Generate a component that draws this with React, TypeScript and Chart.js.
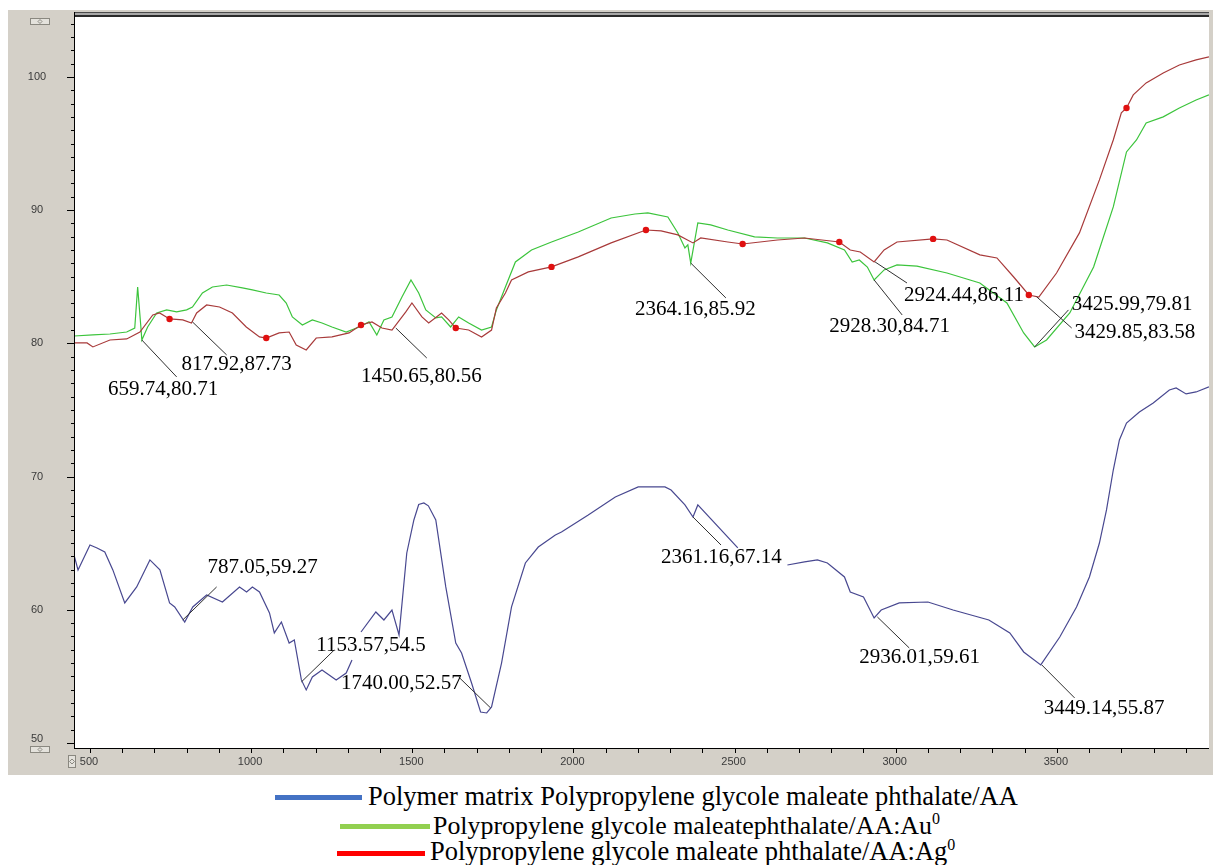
import React, { useEffect, useRef } from "react";
import { Chart, registerables } from "chart.js";

Chart.register(...registerables);

// ---------- axis ranges / ticks ----------
const X_MIN = 450.5;
const X_MAX = 3972;
const Y_MIN = 49.62;
const Y_MAX = 104.5;
const xTickLabels = [500, 1000, 1500, 2000, 2500, 3000, 3500];
const yTickLabels = [50, 60, 70, 80, 90, 100];

// ---------- Polymer matrix (blue) ----------
const polymerWavenumber = [
  450.5, 463, 500, 522, 546, 571, 608, 645, 686, 717, 747, 763, 794, 819, 862, 911, 964, 986, 1004, 1026,
  1057, 1072, 1094, 1118, 1134, 1156, 1171, 1190, 1220, 1264, 1295, 1313, 1327, 1341, 1387, 1412, 1437,
  1459, 1483, 1505, 1520, 1536, 1550, 1573, 1604, 1635, 1653, 1684, 1712, 1731, 1746, 1777, 1808, 1851,
  1891, 1944, 1963, 2046, 2130, 2201, 2284, 2303, 2346, 2371, 2386, 2510, 2590, 2664, 2717, 2757, 2788,
  2841, 2859, 2900, 2933, 2955, 3011, 3100, 3178, 3289, 3314, 3354, 3397, 3450, 3509, 3561, 3601, 3632,
  3654, 3675, 3694, 3716, 3756, 3799, 3849, 3870, 3901, 3932, 3972,
];
const polymerTransmittance = [
  64.11, 62.99, 64.86, 64.64, 64.34, 62.99, 60.51, 61.71, 63.74, 62.99, 60.51, 60.21, 59.08, 60.21, 61.11,
  60.58, 61.71, 61.33, 61.71, 61.33, 59.76, 58.26, 59.08, 57.5, 57.73, 54.73, 53.98, 54.95, 55.48, 54.73,
  55.25, 56.23, null, 58.33, 59.83, 59.23, 59.98, 58.11, 64.26, 66.74, 67.9, 68.02, 67.8, 66.74, 61.71,
  57.5, 56.75, 54.5, 52.32, 52.25, 52.7, 56.0, 60.21, 63.51, 64.71, 65.61, 65.84, 67.11, 68.47, 69.22,
  69.22, 68.99, 67.87, 66.96, 67.87, 64.64, null, 63.36, 63.59, 63.74, 63.51, 62.46, 61.33, 60.96, 59.38,
  59.98, 60.51, 60.58, 59.98, 59.23, 58.86, 58.26, 56.83, 55.86, 57.95, 60.21, 62.46, 65.01, 67.49, 70.49,
  72.75, 74.02, 74.85, 75.52, 76.5, 76.65, 76.2, 76.35, 76.73,
];

// ---------- Au (green) ----------
const goldWavenumber = [
  450.5, 509, 562, 614, 639, 648, 658, 661, 679, 707, 738, 769, 800, 818, 849, 880, 924, 973, 1004, 1047,
  1087, 1109, 1128, 1159, 1190, 1220, 1251, 1295, 1335, 1366, 1390, 1412, 1437, 1468, 1496, 1520, 1542,
  1573, 1591, 1619, 1644, 1675, 1715, 1746, 1761, 1789, 1820, 1870, 1932, 2015, 2117, 2191, 2231, 2293,
  2324, 2346, 2355, 2364, 2386, 2426, 2479, 2562, 2633, 2717, 2788, 2841, 2865, 2887, 2912, 2933, 2964,
  3004, 3066, 3159, 3261, 3345, 3397, 3431, 3468, 3540, 3614, 3675, 3716, 3747, 3777, 3830, 3880, 3932,
  3972,
];
const goldTransmittance = [
  80.55, 80.63, 80.7, 80.85, 81.15, 84.23, 81.23, 80.25, 81.23, 82.28, 82.51, 82.36, 82.51, 82.73, 83.78,
  84.23, 84.38, 84.16, 84.01, 83.78, 83.63, 83.03, 81.98, 81.38, 81.76, 81.53, 81.23, 80.85, 81.23, 81.61,
  80.63, 81.76, 81.98, 83.48, 84.76, 83.78, 82.51, 81.91, 81.98, 81.23, 81.98, 81.53, 81.0, 81.23, 82.51,
  84.23, 86.11, 87.01, 87.61, 88.36, 89.41, 89.71, 89.79, 89.49, 88.29, 87.16, 87.39, 86.03, 89.04, 88.89,
  88.51, 87.99, 87.91, 87.91, 87.54, 87.01, 86.11, 86.26, 85.73, 84.76, 85.51, 85.89, 85.8, 85.28, 84.53,
  83.03, 80.78, 79.73, 80.25, 82.28, 85.73, 90.24, 94.37, 95.27, 96.55, 97.0, 97.67, 98.27, 98.65,
];

// ---------- Ag (red) ----------
const silverWavenumber = [
  450.5, 491, 509, 562, 614, 655, 695, 716, 747, 788, 815, 831, 862, 902, 942, 985, 1026, 1047, 1087, 1118,
  1140, 1171, 1202, 1251, 1304, 1341, 1375, 1406, 1437, 1480, 1499, 1530, 1551, 1591, 1613, 1635, 1675,
  1715, 1746, 1761, 1789, 1808, 1860, 1932, 2015, 2117, 2225, 2272, 2324, 2371, 2395, 2479, 2525, 2633,
  2717, 2825, 2859, 2890, 2933, 2964, 3004, 3116, 3159, 3261, 3314, 3366, 3413, 3444, 3499, 3570, 3632,
  3675, 3700, 3716, 3737, 3777, 3830, 3880, 3932, 3972,
];
const silverTransmittance = [
  80.03, 80.03, 79.73, 80.25, 80.33, 80.85, 82.13, 82.28, 81.83, 81.76, 81.53, 82.28, 82.88, 82.73, 82.28,
  81.23, 80.48, 80.4, 80.78, 80.85, 79.88, 79.5, 80.4, 80.48, 80.78, 81.38, 81.61, 81.15, 81.0, 82.36,
  83.03, 81.98, 81.53, 82.28, 81.76, 81.15, 81.0, 80.48, 81.0, 82.66, 83.78, 84.76, 85.36, 85.74, 86.49,
  87.54, 88.51, 88.44, 88.14, 87.54, 87.91, 87.61, 87.46, 87.76, 87.91, 87.61, 87.01, 86.86, 86.11, 87.01,
  87.61, 87.84, 87.76, 86.64, 86.41, 84.98, 83.63, 83.48, 85.28, 88.29, 92.27, 95.27, 97.3, 97.67, 98.65,
  99.55, 100.3, 100.9, 101.28, 101.5,
];
const silverMarkerWavenumber = [747, 1047, 1341, 1635, 1932, 2225, 2525, 2825, 3116, 3413, 3716];
const silverMarkerTransmittance = [81.83, 80.4, 81.38, 81.15, 85.74, 88.51, 87.46, 87.61, 87.84, 83.63, 97.67];

// ---------- peak annotations ----------
const annotationText = [
  "659.74,80.71", "817.92,87.73", "1450.65,80.56", "2364.16,85.92", "2928.30,84.71", "2924.44,86.11",
  "3425.99,79.81", "3429.85,83.58", "787.05,59.27", "1153.57,54.5", "1740.00,52.57", "2361.16,67.14",
  "2936.01,59.61", "3449.14,55.87",
];
// leader line start (on curve) and end, label left/middle (all in data units)
const annotationPoint = [
  [661, 80.25], [818, 81.61], [1449, 81.15], [2364, 86.03], [2933, 84.76], [2936, 86.11],
  [3431, 79.73], [3437, 83.5], [788, 59.23], [1156, 54.58], [1743, 52.63], [2371, 66.96],
  [2943, 59.46], [3453, 55.86],
];
const annotationEnd = [
  [769, 77.48], [924, 79.13], [1545, 78.9], [2473, 83.41], [3020, 82.13], [3035, 84.53],
  [3536, 82.51], [3546, 81.15], [893, 61.71], [1258, 56.98], [1644, 54.95], [2458, 64.86],
  [3042, 57.13], [3555, 53.38],
];
const annotationLabel = [
  [556, 76.5], [784, 78.45], [1341, 77.48], [2191, 82.55], [2794, 81.23], [3026, 83.63],
  [3546, 82.88], [3555, 80.85], [865, 63.14], [1202, 57.35], [1279, 54.5], [2272, 63.96],
  [2887, 56.45], [3459, 52.62],
];

const zip = (xs: number[], ys: (number | null)[]) => xs.map((x, i) => ({ x, y: ys[i] }));

function drawWidget(ctx: CanvasRenderingContext2D, x: number, y: number, w: number, h: number) {
  ctx.save();
  ctx.fillStyle = "#e4e2dc";
  ctx.strokeStyle = "#8a8880";
  ctx.lineWidth = 1;
  ctx.fillRect(x + 0.5, y + 0.5, w, h);
  ctx.strokeRect(x + 0.5, y + 0.5, w, h);
  ctx.beginPath();
  const cx = x + w / 2 + 0.5;
  const cy = y + h / 2 + 0.5;
  const r = Math.min(w, h) / 2 - 1;
  ctx.moveTo(cx - r, cy);
  ctx.lineTo(cx, cy - r);
  ctx.lineTo(cx + r, cy);
  ctx.lineTo(cx, cy + r);
  ctx.closePath();
  ctx.stroke();
  ctx.restore();
}

const framePlugin = {
  id: "irFrame",
  beforeDraw(chart: any) {
    const { ctx, chartArea: a, width, height } = chart;
    ctx.save();
    ctx.fillStyle = "#d4d0c8";
    ctx.fillRect(0, 0, width, height);
    ctx.fillStyle = "#ffffff";
    ctx.fillRect(a.left, a.top, a.right - a.left, a.bottom - a.top);
    ctx.restore();
  },
  afterDraw(chart: any) {
    const { ctx, chartArea: a } = chart;
    const xs = chart.scales.x;
    const ys = chart.scales.y;
    ctx.save();
    // top double line
    const w = a.right - a.left;
    ctx.fillStyle = "#4a4a4a";
    ctx.fillRect(a.left, a.top - 5, w, 1);
    ctx.fillStyle = "#a8a8a8";
    ctx.fillRect(a.left, a.top - 4, w, 2);
    ctx.fillStyle = "#2a2a2a";
    ctx.fillRect(a.left, a.top - 2, w, 2);
    // axes
    ctx.fillStyle = "#000";
    ctx.fillRect(a.left, a.top - 5, 1, a.bottom - a.top + 6);
    ctx.fillRect(a.left, a.bottom, w, 1);
    // y ticks
    for (let v = 50; v <= 104; v++) {
      const y = Math.round(ys.getPixelForValue(v));
      const len = v % 10 === 0 ? 7 : 3;
      ctx.fillRect(a.left - len, y, len, 1);
    }
    // x ticks
    for (let v = 500; v <= 3900; v += 100) {
      const x = Math.round(xs.getPixelForValue(v));
      ctx.fillRect(x, a.bottom + 1, 1, 4);
    }
    // tick labels
    ctx.fillStyle = "#3a3a3a";
    ctx.font = '11px "Liberation Sans"';
    ctx.textAlign = "center";
    ctx.textBaseline = "middle";
    yTickLabels.forEach((v) => {
      const y = ys.getPixelForValue(v);
      ctx.fillText(String(v), 29, v === 50 ? y - 4 : y);
    });
    xTickLabels.forEach((v) => {
      const x = xs.getPixelForValue(v);
      ctx.fillText(String(v), x - 1, a.bottom + 14);
    });
    // widgets
    drawWidget(ctx, 22, 8, 19, 6);
    drawWidget(ctx, 22, 736, 19, 6);
    drawWidget(ctx, 60, 745, 7, 12);
    ctx.restore();
  },
  afterDatasetsDraw(chart: any) {
    const { ctx } = chart;
    const xs = chart.scales.x;
    const ys = chart.scales.y;
    ctx.save();
    ctx.strokeStyle = "#303030";
    ctx.lineWidth = 1;
    ctx.fillStyle = "#000";
    ctx.font = '21px "Liberation Serif"';
    ctx.textAlign = "left";
    ctx.textBaseline = "middle";
    annotationText.forEach((t, i) => {
      const p = annotationPoint[i];
      const e = annotationEnd[i];
      const l = annotationLabel[i];
      ctx.beginPath();
      ctx.moveTo(xs.getPixelForValue(p[0]), ys.getPixelForValue(p[1]));
      ctx.lineTo(xs.getPixelForValue(e[0]), ys.getPixelForValue(e[1]));
      ctx.stroke();
      ctx.fillText(t, xs.getPixelForValue(l[0]), ys.getPixelForValue(l[1]));
    });
    ctx.restore();
  },
};

const legendRows = [
  { color: "#4472c4", swatchLeft: 275, swatchWidth: 87, swatchTop: 795, textLeft: 368, top: 783, size: 26.5, text: "Polymer matrix Polypropylene glycole maleate phthalate/AA", sup: "" },
  { color: "#92d050", swatchLeft: 340, swatchWidth: 90, swatchTop: 824, textLeft: 433, top: 812.5, size: 25.9, text: "Polypropylene glycole maleatephthalate/AA:Au", sup: "0" },
  { color: "#ff0000", swatchLeft: 337, swatchWidth: 88, swatchTop: 851, textLeft: 430, top: 838, size: 26.5, text: "Polypropylene glycole maleate phthalate/AA:Ag", sup: "0" },
];

export default function App() {
  const canvasRef = useRef<HTMLCanvasElement | null>(null);

  useEffect(() => {
    document.body.style.margin = "0";
    document.body.style.overflow = "hidden";
    const canvas = canvasRef.current;
    if (!canvas) return;
    const chart = new Chart(canvas, {
      type: "line",
      data: {
        datasets: [
          {
            label: "Ag markers",
            data: zip(silverMarkerWavenumber, silverMarkerTransmittance),
            showLine: false,
            pointRadius: 3.2,
            pointBackgroundColor: "#e01010",
            pointBorderWidth: 0,
            borderColor: "#e01010",
          },
          {
            label: "Polypropylene glycole maleate phthalate/AA:Ag0",
            data: zip(silverWavenumber, silverTransmittance),
            borderColor: "#a83a3a",
            borderWidth: 1.2,
            pointRadius: 0,
          },
          {
            label: "Polypropylene glycole maleatephthalate/AA:Au0",
            data: zip(goldWavenumber, goldTransmittance),
            borderColor: "#3cc43c",
            borderWidth: 1.2,
            pointRadius: 0,
          },
          {
            label: "Polymer matrix Polypropylene glycole maleate phthalate/AA",
            data: zip(polymerWavenumber, polymerTransmittance),
            borderColor: "#484890",
            borderWidth: 1.2,
            pointRadius: 0,
            spanGaps: false,
          },
        ],
      },
      options: {
        animation: false,
        responsive: false,
        maintainAspectRatio: false,
        devicePixelRatio: 1,
        layout: { padding: { left: 66, top: 7, right: 0, bottom: 27 } },
        plugins: { legend: { display: false }, tooltip: { enabled: false } },
        elements: { line: { tension: 0 } },
        scales: {
          x: { type: "linear", min: X_MIN, max: X_MAX, display: false },
          y: { type: "linear", min: Y_MIN, max: Y_MAX, display: false },
        },
      },
      plugins: [framePlugin],
    } as any);
    return () => chart.destroy();
  }, []);

  return (
    <div style={{ position: "relative", width: 1213, height: 865, overflow: "hidden", background: "#fff" }}>
      <canvas
        ref={canvasRef}
        width={1205}
        height={765}
        style={{ position: "absolute", left: 8, top: 10, width: 1205, height: 765 }}
      />
      {legendRows.map((r, i) => (
        <React.Fragment key={i}>
          <div
            style={{
              position: "absolute",
              left: r.swatchLeft,
              top: r.swatchTop,
              width: r.swatchWidth,
              height: 5,
              background: r.color,
            }}
          />
          <div
            style={{
              position: "absolute",
              left: r.textLeft,
              top: r.top,
              fontFamily: '"Liberation Serif", serif',
              fontSize: r.size + "px",
              lineHeight: r.size + "px",
              whiteSpace: "nowrap",
              color: "#000",
            }}
          >
            {r.text}
            {r.sup ? (
              <span style={{ fontSize: "16px", position: "relative", top: "-10px" }}>{r.sup}</span>
            ) : null}
          </div>
        </React.Fragment>
      ))}
    </div>
  );
}
